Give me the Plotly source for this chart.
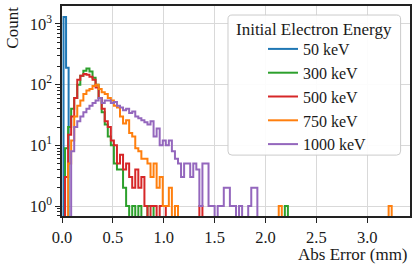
import numpy as np
import plotly.graph_objects as go

# ---- data ----
series_names = ["50 keV", "300 keV", "500 keV", "750 keV", "1000 keV"]
series_colors = ["#1f77b4", "#2ca02c", "#d62728", "#ff7f0e", "#9467bd"]
legend_title = "Initial Electron Energy"

bin_width = 0.03          # mm, common bin width for 300-1000 keV
blue_bin_width = 0.025    # mm, 50 keV
blue_start = 0.015
blue_counts = [1300, 190]

green_first_bin = 0
green_counts = [0, 9, 20, 40, 60, 100, 140, 170, 185, 165, 130, 100, 60, 35, 22, 14,
                10, 5, 4, 4, 2, 1, 0, 1, 0, 1, 0, 0, 1, 1]
green_outlier_bins = [73]

red_first_bin = 1
red_counts = [3, 15, 30, 60, 120, 140, 150, 145, 135, 120, 90, 60, 40, 25, 20, 12,
              10, 5, 7, 4, 5, 3, 2, 4, 2, 3, 1, 0, 1, 1, 0, 1, 1]
red_outlier_bins = [45]

orange_first_bin = 2
orange_counts = [5, 12, 30, 45, 55, 70, 80, 85, 95, 100, 85, 75, 70, 60, 55, 45,
                 42, 30, 23, 26, 16, 14, 9, 8, 6, 6, 5, 3, 5, 2, 3, 1, 1, 2, 0, 1]
orange_outlier_bins = [71, 107]

purple_first_bin = 3
purple_counts = [8, 20, 25, 30, 35, 40, 45, 50, 55, 60, 50, 55, 55, 50, 52, 45,
                 42, 38, 40, 34, 36, 30, 28, 26, 24, 22, 25, 14, 19, 10, 12, 10,
                 12, 8, 6, 5, 3, 5, 5, 3, 5, 4, 1, 5, 5, 1, 1, 0, 1, 1, 2, 2,
                 1, 1, 0, 1, 0, 0, 1, 2, 2]

x_ticks = [0.0, 0.5, 1.0, 1.5, 2.0, 2.5, 3.0]
y_ticks = [1, 10, 100, 1000]
y_tick_text = ["10<sup>0</sup>", "10<sup>1</sup>", "10<sup>2</sup>", "10<sup>3</sup>"]

FLOOR = 1e-3  # stand-in for empty bins on the log axis (drawn below the frame)


def assemble(first_bin, counts, outliers=()):
    n = first_bin + len(counts)
    if outliers:
        n = max(n, max(outliers) + 1)
    full = np.zeros(n)
    full[first_bin:first_bin + len(counts)] = counts
    for b in outliers:
        full[b] += 1
    return full


def step_xy(start, width, counts):
    counts = np.asarray(counts, dtype=float)
    edges = start + width * np.arange(len(counts) + 1)
    y = np.where(counts > 0, counts, FLOOR)
    xs = np.concatenate([[edges[0]], edges])
    ys = np.concatenate([[FLOOR], y, [FLOOR]])
    return xs, ys


hist_data = [
    (blue_start, blue_bin_width, np.array(blue_counts, dtype=float)),
    (0.0, bin_width, assemble(green_first_bin, green_counts, green_outlier_bins)),
    (0.0, bin_width, assemble(red_first_bin, red_counts, red_outlier_bins)),
    (0.0, bin_width, assemble(orange_first_bin, orange_counts, orange_outlier_bins)),
    (0.0, bin_width, assemble(purple_first_bin, purple_counts)),
]

FONT = "Liberation Serif"
TXT = "#1a1a1a"

fig = go.Figure()
for i, (name, color, (start, width, counts)) in enumerate(zip(series_names, series_colors, hist_data)):
    xs, ys = step_xy(start, width, counts)
    fig.add_trace(go.Scatter(
        x=xs, y=ys, mode="lines", name=name,
        line=dict(color=color, width=2, shape="hv"),
        legendgroup=f"g{i}",
    ))

# legend frame (rounded rectangle) in paper coordinates
x0, x1, y0, y1 = 0.477, 0.973, 0.290, 0.957
rx, ry = 4 / 348, 4 / 210
frame_path = (f"M {x0+rx},{y0} L {x1-rx},{y0} Q {x1},{y0} {x1},{y0+ry} "
              f"L {x1},{y1-ry} Q {x1},{y1} {x1-rx},{y1} L {x0+rx},{y1} "
              f"Q {x0},{y1} {x0},{y1-ry} L {x0},{y0+ry} Q {x0},{y0} {x0+rx},{y0} Z")

minor_vals = [m * 10 ** k for k in range(-1, 4) for m in range(2, 10)]

fig.update_layout(
    width=416, height=269,
    margin=dict(l=62, r=6, t=6, b=53),
    paper_bgcolor="white", plot_bgcolor="white",
    font=dict(family=FONT, size=16, color=TXT),
    showlegend=True,
    legend=dict(
        x=(263 - 62) / 348, xanchor="left", y=(216 - 32) / 210, yanchor="top",
        bgcolor="rgba(0,0,0,0)", borderwidth=0,
        font=dict(family=FONT, size=16, color=TXT),
        traceorder="grouped", tracegroupgap=0,
        itemwidth=30,
    ),
    shapes=[dict(type="path", path=frame_path, xref="paper", yref="paper",
                 fillcolor="rgba(255,255,255,0.9)", line=dict(color="#cccccc", width=1),
                 layer="above")],
    xaxis=dict(
        range=[0, 3.42], tickvals=x_ticks, ticktext=[f"{v:.1f}" for v in x_ticks],
        showgrid=True, gridcolor="#d9d9d9", gridwidth=1,
        showline=True, linecolor="#222", linewidth=1.5, mirror=True,
        ticks="outside", ticklen=5, tickwidth=1.2, tickcolor="#222",
        zeroline=False, tickfont=dict(size=16.5), automargin=False,
    ),
    yaxis=dict(
        type="log", range=[np.log10(0.686), np.log10(1973)],
        tickvals=y_ticks, ticktext=y_tick_text,
        showgrid=True, gridcolor="#d9d9d9", gridwidth=1,
        showline=True, linecolor="#222", linewidth=1.5, mirror=True,
        ticks="outside", ticklen=5, tickwidth=1.2, tickcolor="#222",
        minor=dict(ticks="outside", ticklen=3, tickwidth=1, tickcolor="#222",
                   tickmode="array", tickvals=minor_vals, showgrid=False),
        zeroline=False, tickfont=dict(size=16.5), automargin=False,
    ),
    annotations=[
        dict(text="Count", xref="paper", yref="paper", x=-0.1417, y=1.005,
             xanchor="center", yanchor="top", textangle=-90, showarrow=False,
             font=dict(family=FONT, size=17, color=TXT)),
        dict(text="Abs Error (mm)", xref="paper", yref="paper", x=1.0, y=-0.181,
             xanchor="right", yanchor="middle", showarrow=False,
             font=dict(family=FONT, size=17, color=TXT)),
        dict(text=legend_title, xref="paper", yref="paper", x=0.724, y=0.890,
             xanchor="center", yanchor="middle", showarrow=False,
             font=dict(family=FONT, size=17, color=TXT)),
    ],
)

fig.write_html("out.html", config={"displayModeBar": False},
               post_script="document.body.style.margin='0';")
